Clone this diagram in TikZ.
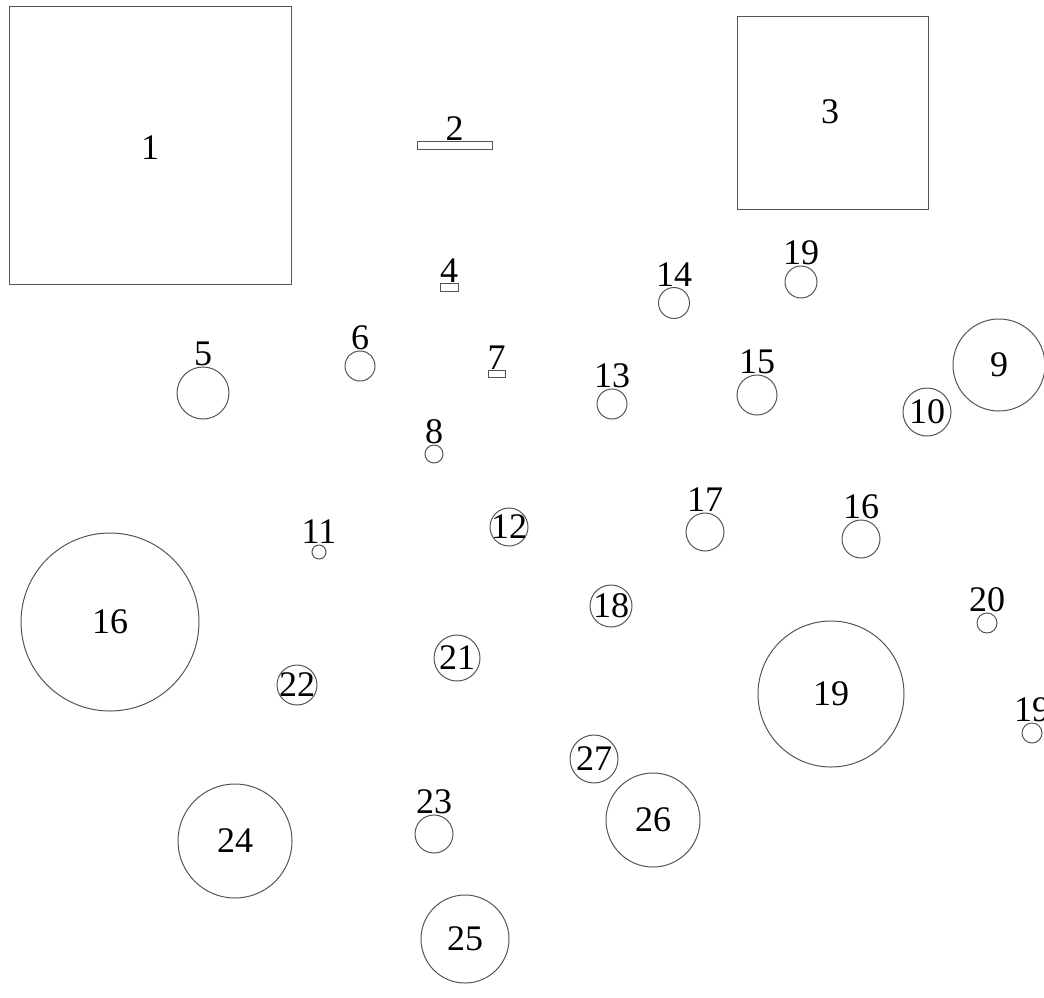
\documentclass[tikz,border=0pt]{standalone}
\usepackage{fontspec}
\setmainfont{Liberation Serif}
\usetikzlibrary{positioning}
\definecolor{edgegray}{RGB}{85,85,85}
\tikzset{
  site/.style={circle, draw=edgegray, line width=1pt, inner sep=0pt},
  plot/.style={rectangle, draw=edgegray, line width=1pt, inner sep=0pt},
  num/.style={font=\fontsize{36}{42}\selectfont, inner sep=0pt},
  tag/.style={num, anchor=base, yshift=1pt}
}
\begin{document}
\begin{tikzpicture}[x=1pt, y=-1pt]
  \useasboundingbox (0,0) rectangle (1044,997);

  % Square plots
  \node[plot, minimum width=282pt, minimum height=278pt] (p1) at (150,145) {};
  \node[num] (t1) at (150,148) {1};
  \node[plot, minimum width=191pt, minimum height=193pt] (p3) at (832.5,112.5) {};
  \node[num] (t3) at (830,112) {3};

  % Small bars
  \node[plot, minimum width=75pt, minimum height=8pt] (p2) at (454.5,145) {};
  \node[tag, yshift=-1pt] (t2) at (p2.north) {2};
  \node[plot, minimum width=18pt, minimum height=8pt] (p4) at (449,287) {};
  \node[tag, yshift=-1pt] (t4) at (p4.north) {4};
  \node[plot, minimum width=17pt, minimum height=7pt] (p7) at (496.5,373.5) {};
  \node[tag, yshift=-1pt] (t7) at (p7.north) {7};

  % Circles, number inside
  \foreach \t/\x/\y/\d [count=\i] in {9/999/365/92, 10/927/412/48, 12/509/527/38,
      16/110/622/178, 18/611/606/42, 19/831/694/146, 21/457/658/46, 22/297/685/40,
      24/235/841/114, 25/465/939/88, 26/653/820/94, 27/594/759/48}{
    \node[site, minimum size=\d pt] (s\i) at (\x,\y) {};
    \node[num] (n\i) at (s\i) {\t};
  }

  % Circles, number above
  \foreach \t/\x/\y/\d [count=\i] in {5/203/393/52, 6/360/366/30, 8/434/454/18,
      11/319/552/14, 13/612/404/30, 14/674/303/31, 15/757/395/40, 16/861/539/38,
      17/705/532/38, 19/801/282/32, 20/987/623/20, 19/1032/733/20, 23/434/834/38}{
    \node[site, minimum size=\d pt] (o\i) at (\x,\y) {};
    \node[tag] (l\i) at (o\i.north) {\t};
  }
\end{tikzpicture}
\end{document}
